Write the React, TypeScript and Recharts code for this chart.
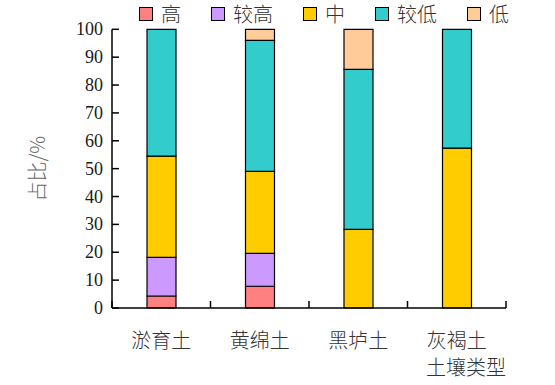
import React from 'react';
import { BarChart, Bar, XAxis, YAxis, Legend } from 'recharts';

const categories = ['淤育土', '黄绵土', '黑垆土', '灰褐土'];
const seriesNames = ['高', '较高', '中', '较低', '低'];
const seriesKeys = ['high', 'fairlyHigh', 'medium', 'fairlyLow', 'low'];
const high = [4.3, 7.8, 0, 0];
const fairlyHigh = [13.9, 11.8, 0, 0];
const medium = [36.3, 29.4, 28.2, 57.4];
const fairlyLow = [45.5, 47.0, 57.4, 42.6];
const low = [0, 4.0, 14.4, 0];
const yTicks = [0, 10, 20, 30, 40, 50, 60, 70, 80, 90, 100];
const xTicks = [0, 0.5, 1, 1.5, 2, 2.5, 3, 3.5, 4];
const xAxisTitle = '土壤类型';
const yAxisTitle = '占比/%';
const colors = ['#FF8080', '#CC99FF', '#FFCC00', '#33CCCC', '#FFCC99'];

const seriesValues = [high, fairlyHigh, medium, fairlyLow, low];

const data = categories.map((name, i) => {
  const row: any = { name, pos: i + 0.5 };
  seriesKeys.forEach((k, s) => {
    row[k] = seriesValues[s][i];
  });
  return row;
});

const CJK = '"Noto Sans CJK SC", "Noto Sans", sans-serif';
const SERIF = '"Liberation Serif", "DejaVu Serif", serif';

const XTick = (props: any) => {
  const { x, y, payload } = props;
  const v = payload.value;
  if (Number.isInteger(v)) {
    return <line x1={x} x2={x} y1={y} y2={y - 7} stroke="#000" strokeWidth={1.5} />;
  }
  const idx = Math.floor(v);
  return (
    <text
      x={x}
      y={y + 31}
      textAnchor="middle"
      dominantBaseline="central"
      fontFamily={CJK}
      fontWeight={300}
      fontSize={20}
      fill="#333"
    >
      {categories[idx]}
    </text>
  );
};

const YTick = (props: any) => {
  const { x, y, payload } = props;
  return (
    <g>
      <line x1={x} x2={x + 7} y1={y} y2={y} stroke="#000" strokeWidth={1.5} />
      <text
        x={x - 9}
        y={y}
        textAnchor="end"
        dominantBaseline="central"
        fontFamily={SERIF}
        fontSize={18}
        fill="#1a1a1a"
      >
        {payload.value}
      </text>
    </g>
  );
};

const renderLegend = () => (
  <div
    style={{
      display: 'flex',
      alignItems: 'center',
      height: 20,
      paddingLeft: 139,
      fontFamily: CJK,
      fontWeight: 300,
      fontSize: 20,
      color: '#333',
      lineHeight: '20px',
    }}
  >
    {seriesNames.map((n, i) => (
      <div key={n} style={{ display: 'flex', alignItems: 'center', marginRight: 30 }}>
        <div
          style={{
            width: 12,
            height: 12,
            background: colors[i],
            border: '1px solid #000',
            marginRight: 8,
          }}
        />
        <span>{n}</span>
      </div>
    ))}
  </div>
);

const YLabel = (props: any) => {
  const vb = props.viewBox;
  const cx = vb.x + 37;
  const cy = vb.y + vb.height / 2;
  return (
    <text
      x={cx}
      y={cy}
      transform={`rotate(-90, ${cx}, ${cy})`}
      textAnchor="middle"
      dominantBaseline="central"
      fontFamily={CJK}
      fontWeight={300}
      fontSize={20}
      fill="#666"
    >
      {yAxisTitle}
    </text>
  );
};

const XLabel = (props: any) => {
  const vb = props.viewBox;
  return (
    <text
      x={vb.x + vb.width}
      y={vb.y + 58}
      textAnchor="end"
      dominantBaseline="central"
      fontFamily={CJK}
      fontWeight={300}
      fontSize={20}
      fill="#333"
    >
      {xAxisTitle}
    </text>
  );
};

export default function App() {
  return (
    <div style={{ position: 'absolute', left: 0, top: 0, background: '#fff' }}>
      <BarChart
        width={555}
        height={385}
        data={data}
        margin={{ top: 9.3, right: 49, left: 0, bottom: 0 }}
      >
        <Legend
          verticalAlign="top"
          content={renderLegend}
          wrapperStyle={{ top: 4, left: 0, width: 555, height: 20 }}
        />
        <XAxis
          dataKey="pos"
          type="number"
          domain={[0, 4]}
          ticks={xTicks}
          interval={0}
          height={77}
          tickLine={false}
          tickSize={0}
          tickMargin={0}
          tick={<XTick />}
          axisLine={{ stroke: '#000', strokeWidth: 1.5 }}
          label={<XLabel />}
        />
        <YAxis
          type="number"
          domain={[0, 100]}
          ticks={yTicks}
          interval={0}
          width={112}
          tickLine={false}
          tickSize={0}
          tickMargin={0}
          tick={<YTick />}
          axisLine={{ stroke: '#000', strokeWidth: 1.5 }}
          label={<YLabel />}
        />
        {seriesKeys.map((k, i) => (
          <Bar
            key={k}
            dataKey={k}
            name={seriesNames[i]}
            stackId="a"
            fill={colors[i]}
            stroke="#000"
            strokeWidth={1.2}
            barSize={29}
            isAnimationActive={false}
          />
        ))}
      </BarChart>
    </div>
  );
}
